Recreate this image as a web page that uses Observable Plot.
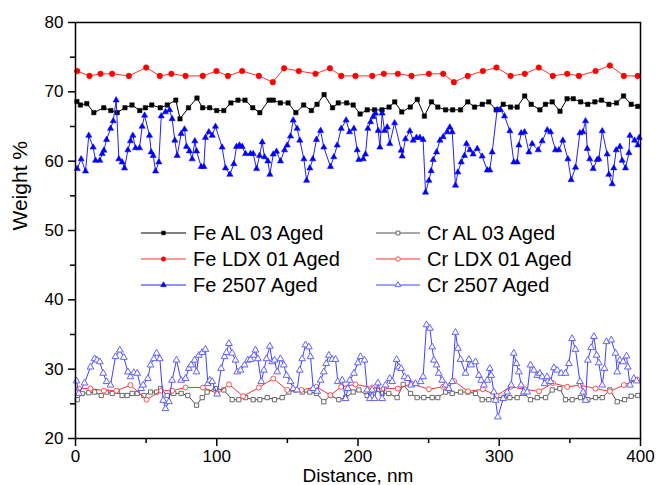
<!DOCTYPE html>
<html><head><meta charset="utf-8">
<script src="https://cdn.jsdelivr.net/npm/d3@7"></script>
<script src="https://cdn.jsdelivr.net/npm/@observablehq/plot@0.6"></script>
<style>
html,body{margin:0;padding:0;background:#fff;}
#wrap{position:relative;width:656px;height:485px;overflow:hidden;}
#wrap svg{display:block;}
#legend{position:absolute;left:0;top:0;}
</style></head><body>
<div id="wrap"></div>
<script>
// ---------- data ----------
const feAL_x = [1,3.5,8,13,20,25,29.5,35,40,45.5,49.5,54,60,65,71,74,80,86,90,95,100,105,110,115,120,125.5,130.5,137,140,145,150.5,156,161.5,167,171,176,182,186,192,196.6,201.5,206.5,211.7,217,222,226,231,237,242,247,252,256.5,262,267,272.6,277.7,282.5,288,292.6,297.8,302.8,308,312.7,318,322.6,328.8,332.7,337.5,343,348,352.4,357.6,362.7,367.7,372.4,377.6,383,388,393.4,398];
const feAL_y = [68.6,68.1,68.3,67.0,67.7,67.3,67.0,67.7,68.1,67.3,67.7,68.1,67.7,68.1,68.8,66.1,67.7,69.1,67.7,67.7,67.3,67.3,68.4,68.8,68.8,67.7,67.0,68.8,68.8,68.4,68.4,67.0,68.1,67.3,68.2,69.6,67.7,68.4,68.4,68.1,66.8,67.4,67.4,67.4,67.8,68.55,67.1,67.8,68.9,66.5,68.55,67.8,67.4,67.4,67.4,68.55,67.8,68.2,68.55,67.4,68.2,67.8,67.8,69.4,68.2,67.4,68.2,68.55,67.2,69.0,69.0,68.55,68.2,68.55,68.8,68.2,68.4,69.4,68.2,67.9];

const feLDX_x = [1.2,9.9,17.7,25.9,37.8,50,59.7,67.9,77.9,90.1,99.8,107.9,118,129.8,139.7,147.7,158.1,169.9,180.1,188.1,198.2,210.1,218.3,228.2,237.9,250.2,260.3,267.9,277.7,288.4,298,308,318.1,328,337.9,348.1,356.4,368.2,378.3,388.2,398.1];
const feLDX_y = [73.0,72.3,72.6,72.6,72.3,73.5,72.3,72.6,72.3,72.3,73.0,72.3,73.0,72.3,71.4,73.4,73.0,72.6,73.4,72.3,72.3,72.3,72.6,72.6,72.3,72.6,72.6,71.4,72.3,73.0,73.5,72.3,72.6,73.5,72.3,72.6,72.3,73.0,73.8,72.3,72.3];

const fe2507_x = [1.2,4.0,7.1,9.4,12.5,14.2,17.2,18.9,20.1,22.0,24.8,26.7,28.8,30.7,33.0,34.7,37.1,38.9,40.6,42.5,45.3,47.2,48.9,52.4,53.6,55.0,56.7,59.0,60.7,63.7,66.6,68.4,70.3,72.0,74.8,77.2,78.6,80.7,82.6,84.5,85.7,89.0,90.9,92.0,94.4,96.8,99.1,103.8,106.2,109.3,112.1,114.0,116.1,118.0,120.4,123.9,125.8,128.2,130.3,132.2,133.8,136.2,137.6,140.0,142.3,145.1,148.0,149.9,152.2,154.1,156.9,158.8,161.7,163.6,165.9,168.0,170.6,173.5,175.8,180.5,182.9,185.3,188.1,191.6,194.0,197.1,199.4,200.6,203.7,205.3,207.0,208.9,210.7,212.4,214.3,215.5,217.1,218.8,220.7,222.5,225.9,230.6,231.3,233.6,236.7,239.1,241.4,243.8,246.1,247.8,250.2,251.8,253.2,255.6,258.0,260.3,263.1,265.0,266.7,269.0,270.7,273.1,275.4,276.8,279.2,281.5,284.4,287.9,291.5,293.3,295.0,298.5,300.9,303.7,307.5,310.3,312.7,313.9,315.5,317.9,321.0,323.3,327.6,330.4,334.0,336.3,339.8,342.2,345.0,348.6,350.9,354.0,357.1,359.2,361.1,362.3,364.1,366.5,369.3,370.5,372.9,376.4,377.6,380.0,381.1,382.8,385.4,387.0,389.4,391.8,392.5,395.8,398.1,399.1];
const fe2507_y = [58.9,60.3,58.55,63.7,62.0,60.1,60.1,61.06,61.55,63.1,64.7,65.8,68.8,60.3,59.86,59.0,61.6,62.9,63.7,61.9,61.9,65.0,66.6,63.7,61.3,60.8,58.55,59.86,66.5,67.1,67.4,66.1,63.0,60.8,63.96,64.6,62.1,61.45,60.3,62.9,61.45,59.2,59.2,63.4,64.2,63.7,65.0,62.0,59.0,58.07,59.6,62.1,62.3,62.1,61.06,61.06,61.06,58.9,60.8,62.75,60.6,60.0,58.07,61.0,61.4,60.0,61.6,62.3,63.6,65.9,64.7,63.0,60.3,57.2,59.0,60.3,63.1,64.4,62.0,59.2,60.6,62.3,64.7,65.9,64.2,64.7,61.6,60.2,60.3,61.0,64.7,65.65,66.4,66.9,64.4,62.0,66.9,64.4,64.9,62.5,65.5,61.55,60.7,63.2,64.35,63.0,63.4,63.4,63.1,55.5,57.2,58.6,60.2,61.3,63.0,63.5,64.2,64.9,64.2,56.5,58.4,59.86,60.8,62.5,61.6,61.0,61.8,60.7,58.7,58.7,61.3,67.4,67.4,66.5,64.35,59.86,59.86,62.3,64.06,64.2,61.3,62.5,61.6,62.9,64.5,64.2,61.6,61.6,63.0,60.3,57.3,59.1,64.06,64.2,65.8,61.8,60.3,58.9,60.2,60.3,64.35,61.0,58.07,56.7,59.0,61.6,62.1,60.1,59.0,61.2,63.7,63.0,62.3,63.4];

const crAL_x = [1.2,4.7,9.4,13.5,18.2,22,26,29.5,33,36.6,40.1,43.7,48.4,53.1,57.4,60.2,64.9,69.6,74.8,79.5,85.7,89.7,93.2,99.1,105,110.9,115.6,120.4,125.8,130.5,135.7,140.9,146.3,151,155.8,160.5,165.9,170.6,175.8,180.5,186.4,191.2,196.6,200.6,206.5,211.7,217.1,221.8,227.7,232,237.2,241.9,246.6,252.5,256.5,262,266.7,272.6,277.8,283.2,287.9,292.6,297.8,303.3,307.5,312.7,317.4,322.1,326.9,332.8,337.5,342.9,346.9,351.6,357.5,362.7,368.2,372.9,378.3,383.5,388.7,393.4,398.1];
const crAL_y = [25.6,26.5,26.6,26.7,26.2,26.7,26.5,26.8,26.2,26.2,26.5,26.5,26.2,26.7,26.7,27.2,26.2,26.5,26.5,26.2,24.8,25.9,26.7,27.2,27.0,25.6,25.6,25.9,25.6,25.6,25.9,25.6,25.9,26.7,27.0,26.7,26.7,26.5,25.3,26.2,25.6,25.9,26.7,27.0,26.2,27.0,26.5,26.5,25.9,27.8,26.5,25.9,25.9,25.9,25.9,26.7,26.5,26.7,26.7,26.5,25.6,25.6,25.9,25.9,25.9,25.9,26.5,25.6,25.9,25.9,27.0,27.2,25.6,25.6,25.9,25.6,25.9,25.9,27.0,25.3,25.6,26.1,26.2];

const crLDX_x = [2.4,10.6,20.1,29,38.9,50.3,60.7,68.4,77.9,90.2,100.3,108.6,118.7,129.8,140,149.9,160,170.6,180.5,188.1,198.2,210,218.3,228.2,237.9,250.2,260.3,267.9,277.8,288.4,298.1,308,318.1,328.1,338,348.1,357.5,368.2,378.3,388.2,397.7];
const crLDX_y = [27.2,27.2,26.9,26.9,27.7,25.6,26.9,26.9,27.35,27.35,26.5,27.8,26.1,27.35,28.65,27.0,27.0,27.45,26.25,27.45,27.8,27.35,27.2,27.2,27.9,27.1,27.45,28.3,26.8,27.1,26.2,27.45,27.1,26.8,28.0,27.45,27.7,27.2,26.8,27.7,28.5];

const cr2507_x = [0.7,2.4,6.4,10.6,13.5,15.3,17.2,19.6,22.0,24.8,28.3,31.4,34.2,37.1,38.9,41.3,43.7,46.5,47.9,51.2,53.1,55.5,57.4,59.7,62.1,63.7,66.1,68.4,71.5,74.8,77.9,80.2,81.9,84.3,85.7,87.3,89.7,92.0,93.7,95.1,96.8,100.3,103.1,105.5,106.9,108.6,110.9,113.3,114.5,116.8,119.7,122.0,123.9,126.3,127.4,129.1,131.5,133.4,135.2,137.6,139.2,140.9,142.8,145.1,147.5,149.4,152.2,154.1,156.9,158.8,160.5,162.8,165.2,166.4,168.3,171.1,173.5,175.8,177.5,179.4,181.7,184.1,185.7,188.8,191.2,192.8,194.2,197.1,199.9,201.8,204.6,206.5,208.4,210.0,211.7,214.1,217.1,219.5,222.5,224.2,227.3,228.9,230.6,232.9,235.3,237.6,240.7,244.3,246.1,248.5,250.9,252.5,253.7,255.6,257.2,259.6,262.0,264.3,266.7,269.0,270.7,272.6,276.1,278.5,280.1,283.2,285.6,287.2,289.1,291.5,293.3,294.3,296.2,297.4,299.0,302.8,305.6,308.5,310.3,312.2,313.9,315.5,317.4,319.8,322.1,324.5,326.9,328.7,330.4,332.1,333.9,336.3,338.7,341.0,343.9,346.9,349.3,351.6,354.0,357.1,359.4,361.1,362.7,365.1,367.0,368.9,370.5,372.9,374.5,375.9,379.3,382.3,383.5,385.4,387.7,390.1,391.0,392.5,395.3,397.2];
const cr2507_y = [28.3,26.5,28.0,30.3,31.5,31.3,31.06,29.4,28.2,27.7,31.8,32.75,31.7,29.6,28.9,29.5,29.4,27.2,27.7,28.65,30.6,31.5,32.3,31.5,25.5,24.3,25.3,28.4,31.3,28.4,28.65,30.1,30.6,31.3,29.6,32.0,32.4,32.85,27.9,28.4,28.2,26.4,30.1,31.8,32.4,33.7,32.3,31.3,29.6,29.85,30.6,31.3,31.4,32.0,32.75,31.5,28.2,29.85,31.5,33.3,31.06,31.3,29.6,31.5,30.6,29.1,28.2,27.2,27.0,29.85,31.5,33.5,33.2,31.8,27.2,26.8,28.4,29.6,30.8,32.0,31.4,31.4,28.2,28.4,25.75,27.2,28.4,29.4,30.9,31.8,31.3,27.0,25.75,27.0,25.75,28.0,25.75,27.7,28.65,28.2,31.4,30.3,30.1,28.9,28.65,27.7,27.9,28.2,28.9,36.4,35.9,33.2,31.3,30.6,29.4,28.4,27.7,27.2,28.2,35.3,33.0,31.4,29.4,31.4,30.6,31.06,29.1,28.4,27.7,28.4,30.1,29.1,26.7,25.5,23.1,25.75,26.7,27.7,32.3,30.8,29.6,27.7,26.7,26.7,30.6,29.85,29.1,29.4,28.9,27.9,28.9,28.2,30.2,29.85,29.4,29.4,30.8,34.4,32.85,28.2,26.7,25.5,31.3,33.1,34.7,32.0,30.9,27.7,30.1,33.96,34.2,32.3,29.6,31.3,31.06,31.9,30.3,27.7,28.65,28.3];

const seriesNames = ["Fe AL 03 Aged","Fe LDX 01 Aged","Fe 2507 Aged","Cr AL 03 Aged","Cr LDX 01 Aged","Cr 2507 Aged"];
const xMajor = [0,100,200,300,400];
const xMinor = [50,150,250,350];
const yMajor = [20,30,40,50,60,70,80];
const yMinor = [25,35,45,55,65,75];

// ---------- styling ----------
const styles = [
  {xs: feAL_x,  ys: feAL_y,  line:"#000000", stroke:"#000000", fill:"#000000", symbol:"square",   r:2.5},
  {xs: feLDX_x, ys: feLDX_y, line:"#ff3030", stroke:"#ff0000", fill:"#ff0000", symbol:"circle",   r:2.8},
  {xs: fe2507_x,ys: fe2507_y,line:"#2020ff", stroke:"#0000ff", fill:"#0000ff", symbol:"triangle", r:2.3},
  {xs: crAL_x,  ys: crAL_y,  line:"#505050", stroke:"#6a6a6a", fill:"#ffffff", symbol:"square",   r:2.4},
  {xs: crLDX_x, ys: crLDX_y, line:"#ff3030", stroke:"#ff5050", fill:"#ffffff", symbol:"circle",   r:2.5},
  {xs: cr2507_x,ys: cr2507_y,line:"#4040ff", stroke:"#6060ff", fill:"#ffffff", symbol:"triangle", r:2.5}
];
const toRows = (xs, ys) => xs.map((x, i) => ({x, y: ys[i]}));

const marks = [];
styles.forEach((s) => {
  const rows = toRows(s.xs, s.ys);
  marks.push(Plot.line(rows, {x: "x", y: "y", stroke: s.line, strokeWidth: 1}));
  marks.push(Plot.dot(rows, {x: "x", y: "y", symbol: () => s.symbol, r: s.r, fill: s.fill, stroke: s.stroke, strokeWidth: s.fill === "#ffffff" ? 1 : 0.5}));
});

const plot = Plot.plot({
  width: 656,
  height: 485,
  marginLeft: 75,
  marginRight: 16,
  marginTop: 22,
  marginBottom: 47,
  style: {fontFamily: "'Liberation Sans', Arial, sans-serif", fontSize: "17px", color: "#000", background: "#fff"},
  x: {domain: [0, 400]},
  y: {domain: [20, 80]},
  symbol: {domain: ["square","circle","triangle"], range: ["square","circle","triangle"]},
  marks: [
    ...marks,
    Plot.frame({stroke: "#000", strokeWidth: 1.5}),
    Plot.axisX({ticks: xMajor, tickSize: 8, tickPadding: 3, strokeWidth: 1.5, fontSize: 17, label: null}),
    Plot.axisX({ticks: xMinor, tickSize: 5, tickFormat: () => "", strokeWidth: 1.5, label: null}),
    Plot.axisY({ticks: yMajor, tickSize: 7, tickPadding: 5, strokeWidth: 1.5, fontSize: 17, label: null}),
    Plot.axisY({ticks: yMinor, tickSize: 5, tickFormat: () => "", strokeWidth: 1.5, label: null}),
    Plot.text(["Distance, nm"], {text: d => d, frameAnchor: "bottom", lineAnchor: "middle", dy: 37, fontSize: 19}),
    Plot.text(["Weight %"], {text: d => d, frameAnchor: "left", rotate: -90, dx: -55, fontSize: 21})
  ]
});

const wrap = document.getElementById("wrap");
wrap.appendChild(plot);

// ---------- legend (overlay) ----------
const leg = d3.select(wrap).append("svg").attr("id", "legend")
  .attr("width", 656).attr("height", 485)
  .style("font-family", "'Liberation Sans', Arial, sans-serif").style("font-size", "20px");
const cols = [{x1: 141, x2: 186, tx: 193}, {x1: 376, x2: 420, tx: 427}];
const rowY = [233, 259, 285];
const symMap = {square: d3.symbolSquare, circle: d3.symbolCircle, triangle: d3.symbolTriangle};
seriesNames.forEach((name, i) => {
  const s = styles[i];
  const c = cols[Math.floor(i / 3)];
  const y = rowY[i % 3];
  leg.append("line").attr("x1", c.x1).attr("x2", c.x2).attr("y1", y).attr("y2", y)
    .attr("stroke", s.line).attr("stroke-width", 1);
  leg.append("path").attr("d", d3.symbol(symMap[s.symbol], s.symbol === "circle" ? 16 : 14)())
    .attr("transform", `translate(${(c.x1 + c.x2) / 2},${y})`)
    .attr("fill", s.fill).attr("stroke", s.stroke).attr("stroke-width", s.fill === "#ffffff" ? 1 : 0.5);
  leg.append("text").attr("x", c.tx).attr("y", y).attr("dy", "0.35em").attr("fill", "#000").text(name);
});
</script>
</body></html>
